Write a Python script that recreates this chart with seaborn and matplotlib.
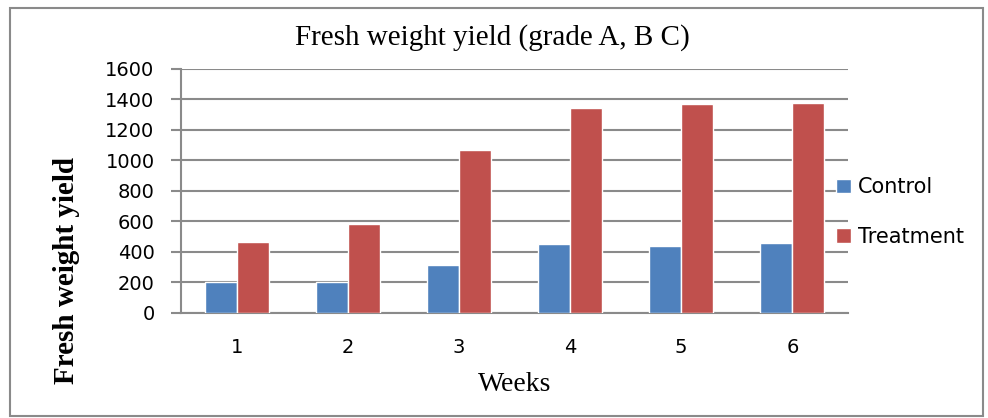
import pandas as pd
import seaborn as sns
import matplotlib.pyplot as plt
from matplotlib.patches import Rectangle

# values
weeks = ["1", "2", "3", "4", "5", "6"]
control = [205, 201, 313, 452, 439, 459]
treatment = [468, 584, 1067, 1344, 1373, 1379]

df = pd.DataFrame({
    "week": weeks * 2,
    "yield": control + treatment,
    "group": ["Control"] * len(weeks) + ["Treatment"] * len(weeks),
})

sns.set_theme(style="white")
plt.rcParams["font.family"] = ["DejaVu Sans"]
plt.rcParams["text.color"] = "black"
plt.rcParams["xtick.labelcolor"] = "black"
plt.rcParams["ytick.labelcolor"] = "black"
plt.rcParams["axes.labelcolor"] = "black"

fig = plt.figure(figsize=(9.88, 4.18), dpi=100)
ax = fig.add_axes([0.1832, 0.2512, 0.675, 0.5838])

grid_col = "#8a8a8a"
sns.barplot(data=df, x="week", y="yield", hue="group",
            palette=["#4F81BD", "#C0504D"], width=0.576,
            saturation=1, ax=ax, zorder=3)

ax.set_ylim(0, 1600)
ax.set_xlim(-0.5, 5.5)
ax.set_yticks(range(0, 1601, 200))
ax.yaxis.grid(True, color=grid_col, linewidth=1.5, zorder=0)
ax.set_axisbelow(True)

for side in ["top", "right"]:
    ax.spines[side].set_visible(False)
for side in ["left", "bottom"]:
    ax.spines[side].set_color(grid_col)
    ax.spines[side].set_linewidth(1.5)

ax.set_xticks([i - 0.5 for i in range(7)], minor=True)
ax.tick_params(axis="x", which="major", length=0, labelsize=14, pad=18,
               labelcolor="black")
ax.tick_params(axis="x", which="minor", length=6, color=grid_col, width=1.5,
               direction="out")
ax.tick_params(axis="y", length=7, color=grid_col, width=1.5, labelsize=14,
               pad=12, left=True, direction="out", labelcolor="black")

fig.text(0.498, 0.892, "Fresh weight yield (grade A, B C)",
         family="Liberation Serif", fontsize=21, ha="center", va="baseline",
         color="black")
ax.set_xlabel("Weeks", family="Liberation Serif", fontsize=20, labelpad=11,
              color="black")
ax.set_ylabel("")
fig.text(0.067, 0.352, "Fresh weight yield", family="Liberation Serif",
         fontweight="bold", fontsize=21, rotation=90, ha="center",
         va="center", color="black")

handles, labels = ax.get_legend_handles_labels()
leg = ax.legend(handles, labels, loc="center left",
                bbox_to_anchor=(0.846, 0.493),
                bbox_transform=fig.transFigure, frameon=False, fontsize=15,
                handlelength=0.72, handleheight=0.72, handletextpad=0.35,
                labelspacing=1.4, borderaxespad=0, borderpad=0)
for t in leg.get_texts():
    t.set_color("black")

# outer chart border
fig.patches.append(Rectangle((0.010, 0.005), 0.985, 0.977,
                             transform=fig.transFigure, fill=False,
                             edgecolor=grid_col, linewidth=1.5))

fig.savefig("out.png", dpi=100)
